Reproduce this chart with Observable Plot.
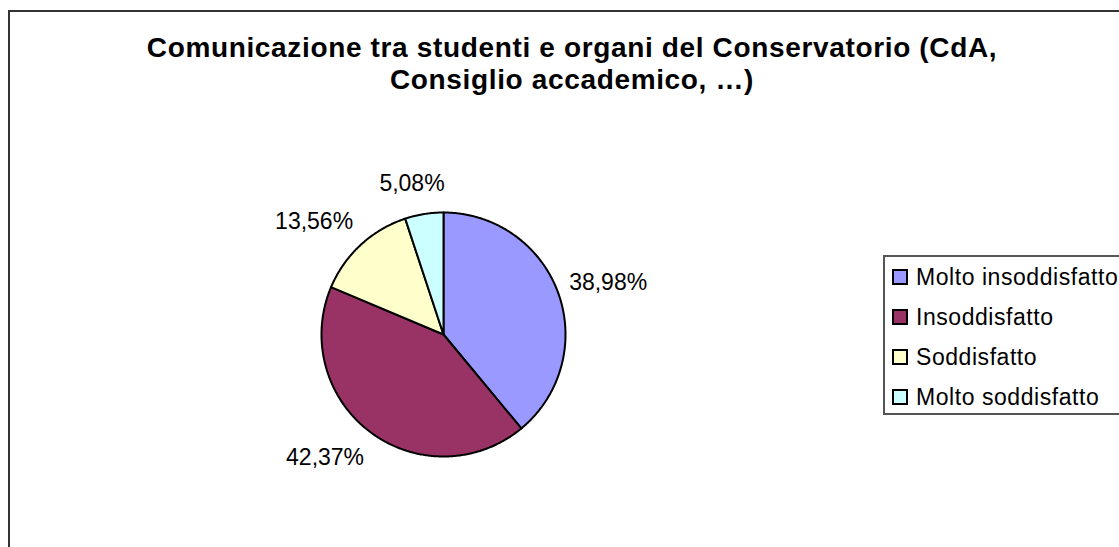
<!DOCTYPE html>
<html>
<head>
<meta charset="utf-8">
<script src="https://cdn.jsdelivr.net/npm/d3@7"></script>
<script src="https://cdn.jsdelivr.net/npm/@observablehq/plot@0.6"></script>
<style>
  html, body { margin: 0; padding: 0; background: #fff; overflow: hidden; }
  #wrap { position: relative; width: 1119px; height: 547px; overflow: hidden; font-family: "Liberation Sans", Arial, sans-serif; }
  #frame { position: absolute; left: 8px; top: 10px; width: 1200px; height: 700px; border: 2px solid #333; box-sizing: border-box; }
  #title { position: absolute; left: 0; top: 32px; width: 1144px; text-align: center; font-weight: bold; font-size: 28px; line-height: 32px; letter-spacing: 0.65px; color: #000; }
  #chart { position: absolute; left: 0; top: 110px; }
  #legend { position: absolute; left: 883px; top: 255px; width: 260px; height: 160px; border: 2px solid #555; box-sizing: border-box; }
  .item { position: absolute; left: 0; height: 40px; display: flex; align-items: center; font-size: 23px; color: #000; white-space: nowrap; letter-spacing: 0.55px; }
  .sw { width: 12px; height: 12px; border: 2px solid #000; margin-left: 7px; margin-right: 8px; box-sizing: content-box; }
</style>
</head>
<body>
<div id="wrap">
  <div id="frame"></div>
  <div id="title">Comunicazione tra studenti e organi del Conservatorio (CdA,<br>Consiglio accademico, …)</div>
  <div id="chart"></div>
  <div id="legend"></div>
</div>
<script>
const names = ["Molto insoddisfatto", "Insoddisfatto", "Soddisfatto", "Molto soddisfatto"];
const values = [38.98, 42.37, 13.56, 5.08];
const labels = ["38,98%", "42,37%", "13,56%", "5,08%"];
const colors = ["#9999FF", "#993366", "#FFFFCC", "#CCFFFF"];

// slice geometry from the data (clockwise from 12 o'clock)
const arcs = d3.pie().sort(null).value(d => d)(values);
const pts = [];
arcs.forEach((a, i) => {
  pts.push({name: names[i], x: 0, y: 0});
  const n = Math.max(2, Math.ceil((a.endAngle - a.startAngle) / 0.01));
  for (let k = 0; k <= n; k++) {
    const t = a.startAngle + (a.endAngle - a.startAngle) * k / n;
    pts.push({name: names[i], x: Math.sin(t), y: Math.cos(t)});
  }
  pts.push({name: names[i], x: 0, y: 0});
});

// outside labels, placed like Excel's "best fit" outside labels
const R = 122; // pixels per unit radius (matches the x/y ranges below)
const lbl = arcs.map((a, i) => {
  const m = (a.startAngle + a.endAngle) / 2;
  const s = Math.sin(m), c = Math.cos(m);
  const hw = 6.4 * labels[i].length / R;
  return {
    label: labels[i],
    x: 1.1 * s + Math.sign(s) * hw * Math.min(1, Math.abs(s) / 0.5),
    y: c * (1.1 + 19 / R)
  };
});

const chart = Plot.plot({
  width: 1119,
  height: 437,
  margin: 0,
  style: {background: "transparent", overflow: "visible"},
  x: {domain: [-1, 1], range: [443 - R, 443 + R], axis: null},
  y: {domain: [-1, 1], range: [224 + R, 224 - R], axis: null},
  color: {domain: names, range: colors},
  marks: [
    Plot.line(pts, {x: "x", y: "y", z: "name", fill: "name", stroke: "#000", strokeWidth: 2, strokeLinejoin: "round", curve: "linear"}),
    Plot.text(lbl, {x: "x", y: "y", text: "label", textAnchor: "middle", lineAnchor: "middle",
      fontSize: 23, fontFamily: "Liberation Sans, Arial, sans-serif", fill: "#000"})
  ]
});
document.getElementById("chart").appendChild(chart);

const leg = document.getElementById("legend");
names.forEach((n, i) => {
  const it = document.createElement("div");
  it.className = "item";
  it.style.top = (i * 40) + "px";
  const sw = document.createElement("div");
  sw.className = "sw";
  sw.style.background = colors[i];
  const tx = document.createElement("span");
  tx.textContent = n;
  it.appendChild(sw);
  it.appendChild(tx);
  leg.appendChild(it);
});
</script>
</body>
</html>
